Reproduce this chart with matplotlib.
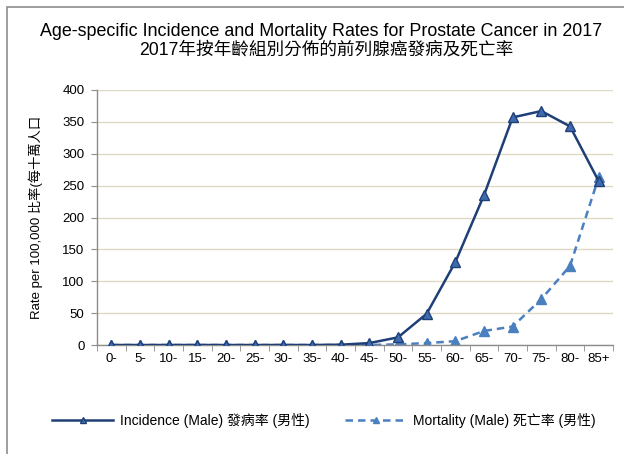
import numpy as np
import matplotlib.pyplot as plt
from matplotlib.patches import Rectangle

plt.rcParams['font.family'] = ['Liberation Sans', 'Noto Sans CJK TC', 'DejaVu Sans']

age_groups = ['0-', '5-', '10-', '15-', '20-', '25-', '30-', '35-', '40-',
              '45-', '50-', '55-', '60-', '65-', '70-', '75-', '80-', '85+']
incidence = [0, 0, 0, 0, 0, 0, 0, 0, 0.5, 3, 12, 49, 130, 235, 357, 367, 343, 257]
mortality = [0, 0, 0, 0, 0, 0, 0, 0, 0, 0, 1, 3, 6, 22, 29, 72, 124, 263]
yticks = [0, 50, 100, 150, 200, 250, 300, 350, 400]

fig = plt.figure(figsize=(6.24, 4.54), dpi=100)
ax = fig.add_axes([97/624, 1-345/454, (613-97)/624, (345-90)/454])

# outer frame of the chart box
fig.patches.append(Rectangle((7/624, -0.1), 1.2, 1-7/454+0.1, transform=fig.transFigure,
                             fill=False, edgecolor='#8c8c8c', linewidth=1.2))

x = np.arange(len(age_groups))
ax.plot(x, incidence, color='#1f3f77', linewidth=1.8, marker='^', markersize=6.5,
        markerfacecolor='#3f6cb0', markeredgecolor='#1f3f77', markeredgewidth=1.0,
        label='Incidence (Male) 發病率 (男性)', zorder=3)
ax.plot(x, mortality, color='#4a7fc0', linewidth=1.8, linestyle=(0, (3, 2)), marker='^',
        markersize=6.5, markerfacecolor='#4a7fc0', markeredgecolor='#4a7fc0',
        label='Mortality (Male) 死亡率 (男性)', zorder=2)

ax.set_xlim(-0.5, len(age_groups) - 0.5)
ax.set_ylim(0, 400)
ax.set_yticks(yticks)
ax.set_xticks(x)
ax.set_xticklabels(age_groups)
ax.set_xticks(np.arange(-0.5, len(age_groups)), minor=True)
ax.tick_params(axis='x', which='major', length=0, labelsize=9.5, pad=6, colors='black')
ax.tick_params(axis='x', which='minor', length=4, color='#8c8c8c', direction='out')
ax.tick_params(axis='y', length=4, color='#8c8c8c', labelsize=9.5, pad=5)

ax.grid(axis='y', color='#ddd9c3', linewidth=1.0)
ax.set_axisbelow(True)
for s in ['top', 'right']:
    ax.spines[s].set_visible(False)
for s in ['left', 'bottom']:
    ax.spines[s].set_color('#8c8c8c')
    ax.spines[s].set_linewidth(1.0)

ax.set_ylabel('Rate per 100,000 比率(每十萬人口', fontsize=9.5, labelpad=14)

fig.text(0.515, 1-32/454, 'Age-specific Incidence and Mortality Rates for Prostate Cancer in 2017',
         ha='center', va='center', fontsize=12.9)
fig.text(0.523, 1-50/454, '2017年按年齡組別分佈的前列腺癌發病及死亡率',
         ha='center', va='center', fontsize=12.7)

fig.legend(loc='center', bbox_to_anchor=(0.519, 1-420/454), ncol=2, frameon=False,
           fontsize=10, handlelength=4.4, columnspacing=2.6, handletextpad=0.45,
           markerscale=0.75)

fig.savefig('out.png', dpi=100)
